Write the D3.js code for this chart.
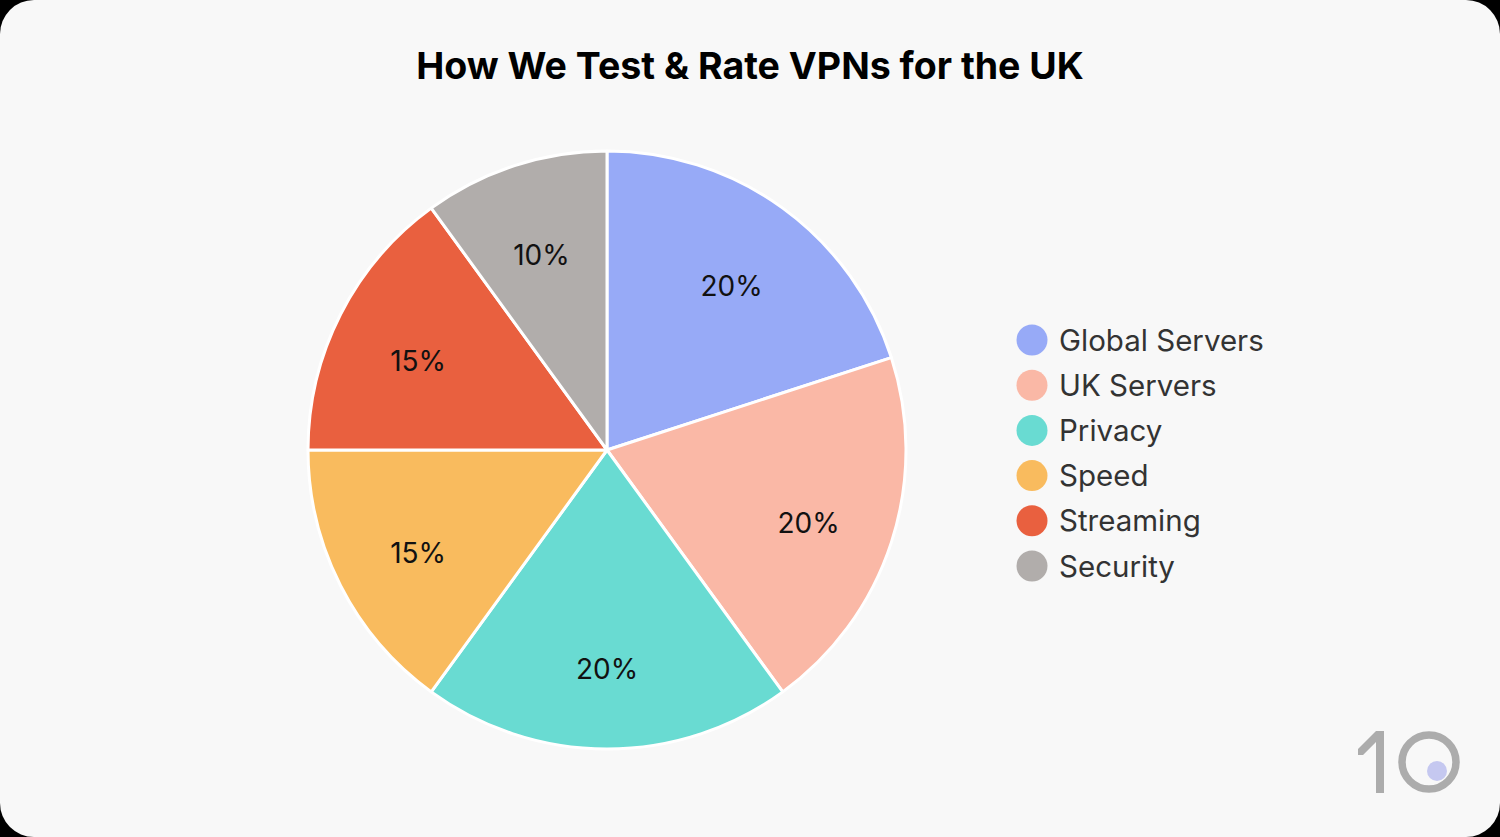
<!DOCTYPE html>
<html><head><meta charset="utf-8">
<script src="https://cdn.jsdelivr.net/npm/d3@7"></script>
<style>html,body{margin:0;padding:0;background:#000;}svg{display:block;}</style>
</head><body>
<svg id="c" width="1500" height="837"></svg>
<script>
const categories = ["Global Servers","UK Servers","Privacy","Speed","Streaming","Security"];
const values = [20,20,20,15,15,10];
const colors = ["#97aaf7","#fab8a6","#69dbd2","#f9bb5e","#e9603f","#b1adab"];
const title = "How We Test & Rate VPNs for the UK";

const svg = d3.select("#c");
svg.append("rect").attr("x",0).attr("y",0).attr("width",1500).attr("height",837).attr("rx",34).attr("fill","#f8f8f8");

const t = svg.append("text").attr("x",750).attr("y",79).attr("text-anchor","middle")
  .attr("font-family","Inter, 'Noto Sans', sans-serif").attr("font-weight",700).attr("font-size",35)
  .attr("fill","#000").text(title);
const tw = t.node().getComputedTextLength();
t.attr("font-size", 35*668/tw);

const cx=607, cy=450, R=299;
const g = svg.append("g").attr("transform",`translate(${cx},${cy})`);
const pie = d3.pie().sort(null).value(d=>d)(values);
const arc = d3.arc().innerRadius(0).outerRadius(R);
const labelArc = d3.arc().innerRadius(212).outerRadius(212);
g.selectAll("path").data(pie).join("path").attr("d",arc)
  .attr("fill",(d,i)=>colors[i]).attr("stroke","#fff").attr("stroke-width",3).attr("stroke-linejoin","round");
g.selectAll("text").data(pie).join("text")
  .attr("transform",d=>{const c=labelArc.centroid(d);return `translate(${c[0]},${c[1]+7})`;})
  .attr("text-anchor","middle").attr("dy","0.36em")
  .attr("font-family","Inter, 'Noto Sans', sans-serif").attr("font-size",28).attr("fill","#111")
  .text(d=>d.data+"%");

const y = d3.scalePoint().domain(categories).range([340,566]);
const lg = svg.append("g");
lg.selectAll("circle").data(categories).join("circle")
  .attr("cx",1032).attr("cy",d=>y(d)).attr("r",15.5).attr("fill",(d,i)=>colors[i]);
lg.selectAll("text").data(categories).join("text")
  .attr("x",1059).attr("y",d=>y(d)).attr("dy","0.36em")
  .attr("font-family","Inter, 'Noto Sans', sans-serif").attr("font-size",29.5).attr("fill","#333")
  .text(d=>d);

// logo
const logo = svg.append("g");
logo.append("path").attr("d","M1358,749 L1376,731 L1384,731 L1384,793 L1376,793 L1376,742 L1363,755 L1358,755 Z").attr("fill","#acacac");
logo.append("circle").attr("cx",1429).attr("cy",762).attr("r",27).attr("fill","none").attr("stroke","#acacac").attr("stroke-width",7.5);
logo.append("circle").attr("cx",1437).attr("cy",771).attr("r",10).attr("fill","#c5c8f0");
</script>
</body></html>
